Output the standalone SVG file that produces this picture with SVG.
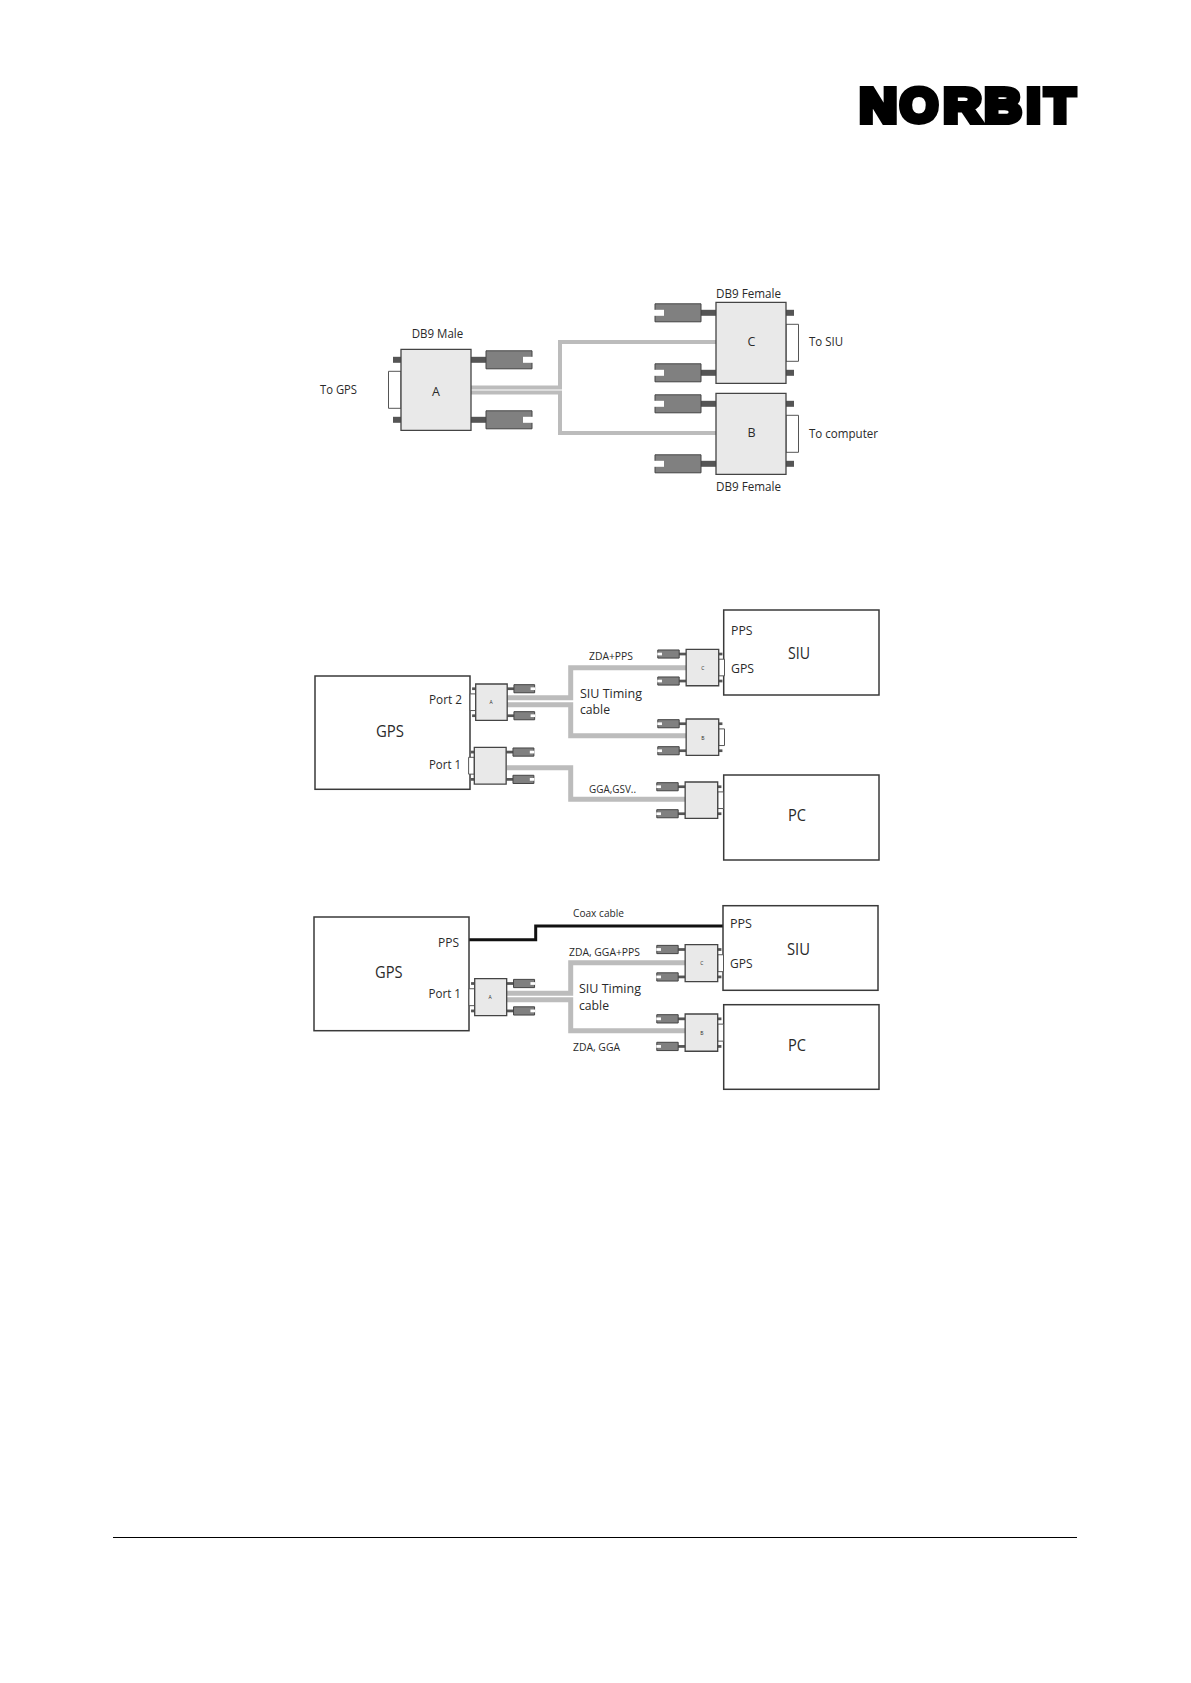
<svg xmlns="http://www.w3.org/2000/svg" xmlns:xlink="http://www.w3.org/1999/xlink" width="1191" height="1683" viewBox="0 0 1191 1683">
<style>
text{font-family:"Open Sans","Liberation Sans",sans-serif;fill:#2a2a2a}
.t{font-size:12.5px}.s{font-size:10px}.m{font-size:13.5px}.l{font-size:17px}.xs{font-size:5px}
.lg{font-family:"Liberation Sans",Arial,sans-serif;font-weight:700;font-size:48px;fill:#000;stroke:#000;stroke-width:6px;stroke-linejoin:miter}
.box{fill:#fff;stroke:#3a3a3a;stroke-width:1.5}
.cb{fill:#e9e9e9;stroke:#444;stroke-width:1.3;vector-effect:non-scaling-stroke}
.bump{fill:#fff;stroke:#555;stroke-width:1;vector-effect:non-scaling-stroke}
.stem{fill:#555}
.body{fill:#808080;stroke:#444;stroke-width:1;vector-effect:non-scaling-stroke}
.notch{fill:#fff}
.cable{fill:none;stroke:#bcbcbc;stroke-linejoin:miter}
.c1{stroke-width:4}.c2{stroke-width:5}
.coax{fill:none;stroke:#111;stroke-width:3}
</style>
<defs>
<g id="conn">
<rect class="bump" x="-12.5" y="22" width="12.5" height="37"/>
<rect class="stem" x="-8" y="7.5" width="8" height="6"/>
<rect class="stem" x="-8" y="67.5" width="8" height="6"/>
<rect class="stem" x="70" y="7.5" width="16" height="6"/>
<rect class="stem" x="70" y="67.5" width="16" height="6"/>
<rect class="body" x="85" y="1.5" width="46" height="18"/>
<rect class="body" x="85" y="61.5" width="46" height="18"/>
<rect class="notch" x="122" y="7.5" width="10" height="6"/>
<rect class="notch" x="122" y="67.5" width="10" height="6"/>
<rect class="cb" x="0" y="0" width="70" height="81"/>
</g>
</defs>
<g id="logo">
<text class="lg" x="859.5" y="122" textLength="37.5" lengthAdjust="spacingAndGlyphs">N</text>
<text class="lg" x="900" y="122" textLength="38" lengthAdjust="spacingAndGlyphs">O</text>
<text class="lg" x="943.5" y="122" textLength="38" lengthAdjust="spacingAndGlyphs">R</text>
<text class="lg" x="984.5" y="122" textLength="37" lengthAdjust="spacingAndGlyphs">B</text>
<text class="lg" x="1026.5" y="122" textLength="14" lengthAdjust="spacingAndGlyphs">I</text>
<text class="lg" x="1045" y="122" textLength="30" lengthAdjust="spacingAndGlyphs">T</text>
</g>
<g id="connectors">
<path class="cable c1" d="M471 387.5H560V342H716"/>
<path class="cable c1" d="M471 392.5H560V433H716"/>
<path class="cable c2" d="M507 697.7H570.7V667.7H686"/>
<path class="cable c2" d="M507 704.7H570.7V735.7H686"/>
<path class="cable c2" d="M507 767.7H570.7V799.3H685"/>
<path class="coax" d="M469 939.7H535.7V926H723"/>
<path class="cable c2" d="M507 993.3H570.7V962.7H685"/>
<path class="cable c2" d="M507 999.7H570.7V1030.7H685"/>
</g>
<g id="fig1-A"><use xlink:href="#conn" href="#conn" transform="translate(401 349.3)"/><text class="t" x="432" y="395.6">A</text></g>
<g id="fig1-C"><use xlink:href="#conn" href="#conn" transform="translate(786 302.3) scale(-1 1)"/><text class="t" x="747.5" y="346">C</text></g>
<g id="fig1-B"><use xlink:href="#conn" href="#conn" transform="translate(786 393.3) scale(-1 1)"/><text class="t" x="747.5" y="437">B</text></g>
<g id="fig1-labels">
<text class="t" x="411.7" y="338" textLength="51.5" lengthAdjust="spacingAndGlyphs">DB9 Male</text>
<text class="t" x="320" y="394" textLength="37" lengthAdjust="spacingAndGlyphs">To GPS</text>
<text class="t" x="716" y="298" textLength="65" lengthAdjust="spacingAndGlyphs">DB9 Female</text>
<text class="t" x="809" y="346" textLength="34" lengthAdjust="spacingAndGlyphs">To SIU</text>
<text class="t" x="809" y="437.7" textLength="69" lengthAdjust="spacingAndGlyphs">To computer</text>
<text class="t" x="716" y="490.7" textLength="65" lengthAdjust="spacingAndGlyphs">DB9 Female</text>
</g>
<g id="fig2-GPS"><rect class="box" x="315" y="676" width="155" height="113.3"/>
<text class="l" x="376" y="736.7" textLength="28" lengthAdjust="spacingAndGlyphs">GPS</text>
<text class="m" x="429" y="704" textLength="33" lengthAdjust="spacingAndGlyphs">Port 2</text>
<text class="m" x="429" y="769" textLength="32" lengthAdjust="spacingAndGlyphs">Port 1</text></g>
<g id="fig2-SIU"><rect class="box" x="723.7" y="610" width="155.3" height="85"/>
<text class="m" x="731" y="634.7" textLength="21.5" lengthAdjust="spacingAndGlyphs">PPS</text>
<text class="m" x="731" y="672.7" textLength="23" lengthAdjust="spacingAndGlyphs">GPS</text>
<text class="l" x="788" y="659.3" textLength="22" lengthAdjust="spacingAndGlyphs">SIU</text></g>
<g id="fig2-PC"><rect class="box" x="723.7" y="775" width="155.3" height="85"/>
<text class="l" x="788" y="821" textLength="18" lengthAdjust="spacingAndGlyphs">PC</text></g>
<g id="fig2-A"><use xlink:href="#conn" href="#conn" transform="translate(475.7 684) scale(.45)"/><text class="xs" x="489.5" y="704.3">A</text></g>
<g id="fig2-P1"><use xlink:href="#conn" href="#conn" transform="translate(474.3 747.3) scale(.455)"/></g>
<g id="fig2-C"><use xlink:href="#conn" href="#conn" transform="translate(718.7 649.3) scale(-.465 .45)"/><text class="xs" x="701.2" y="669.5">C</text></g>
<g id="fig2-B"><use xlink:href="#conn" href="#conn" transform="translate(718.7 719) scale(-.465 .45)"/><text class="xs" x="701.2" y="739.5">B</text></g>
<g id="fig2-D"><use xlink:href="#conn" href="#conn" transform="translate(717.7 782) scale(-.465 .45)"/></g>
<g id="fig2-labels">
<text class="s" x="589" y="660" textLength="44" lengthAdjust="spacingAndGlyphs">ZDA+PPS</text>
<text class="m" x="580" y="697.7" textLength="62" lengthAdjust="spacingAndGlyphs">SIU Timing</text>
<text class="m" x="580" y="714" textLength="30" lengthAdjust="spacingAndGlyphs">cable</text>
<text class="s" x="589" y="792.7" textLength="47" lengthAdjust="spacingAndGlyphs">GGA,GSV..</text>
</g>
<g id="fig3-GPS"><rect class="box" x="314" y="917" width="155" height="113.7"/>
<text class="m" x="438" y="947.3" textLength="21" lengthAdjust="spacingAndGlyphs">PPS</text>
<text class="l" x="375" y="977.7" textLength="27.5" lengthAdjust="spacingAndGlyphs">GPS</text>
<text class="m" x="428.5" y="997.7" textLength="32.5" lengthAdjust="spacingAndGlyphs">Port 1</text></g>
<g id="fig3-SIU"><rect class="box" x="723" y="905.7" width="155" height="84.6"/>
<text class="m" x="730" y="928.3" textLength="22" lengthAdjust="spacingAndGlyphs">PPS</text>
<text class="m" x="730" y="967.7" textLength="22.5" lengthAdjust="spacingAndGlyphs">GPS</text>
<text class="l" x="787" y="955" textLength="23" lengthAdjust="spacingAndGlyphs">SIU</text></g>
<g id="fig3-PC"><rect class="box" x="723.7" y="1004.7" width="155.3" height="84.6"/>
<text class="l" x="788" y="1050.7" textLength="18" lengthAdjust="spacingAndGlyphs">PC</text></g>
<g id="fig3-A"><use xlink:href="#conn" href="#conn" transform="translate(474.7 978.7) scale(.457)"/><text class="xs" x="488.5" y="999">A</text></g>
<g id="fig3-C"><use xlink:href="#conn" href="#conn" transform="translate(717.7 944.7) scale(-.465 .457)"/><text class="xs" x="700.2" y="965">C</text></g>
<g id="fig3-B"><use xlink:href="#conn" href="#conn" transform="translate(717.7 1014) scale(-.465 .46)"/><text class="xs" x="700.2" y="1034.5">B</text></g>
<g id="fig3-labels">
<text class="s" x="573" y="916.7" textLength="51" lengthAdjust="spacingAndGlyphs">Coax cable</text>
<text class="s" x="569" y="955.7" textLength="71" lengthAdjust="spacingAndGlyphs">ZDA, GGA+PPS</text>
<text class="m" x="579" y="993.3" textLength="62" lengthAdjust="spacingAndGlyphs">SIU Timing</text>
<text class="m" x="579" y="1010" textLength="30" lengthAdjust="spacingAndGlyphs">cable</text>
<text class="s" x="573" y="1050.7" textLength="47" lengthAdjust="spacingAndGlyphs">ZDA, GGA</text>
</g>
<line id="footer-rule" x1="113" y1="1537.5" x2="1077" y2="1537.5" stroke="#000" stroke-width="1"/>
</svg>
